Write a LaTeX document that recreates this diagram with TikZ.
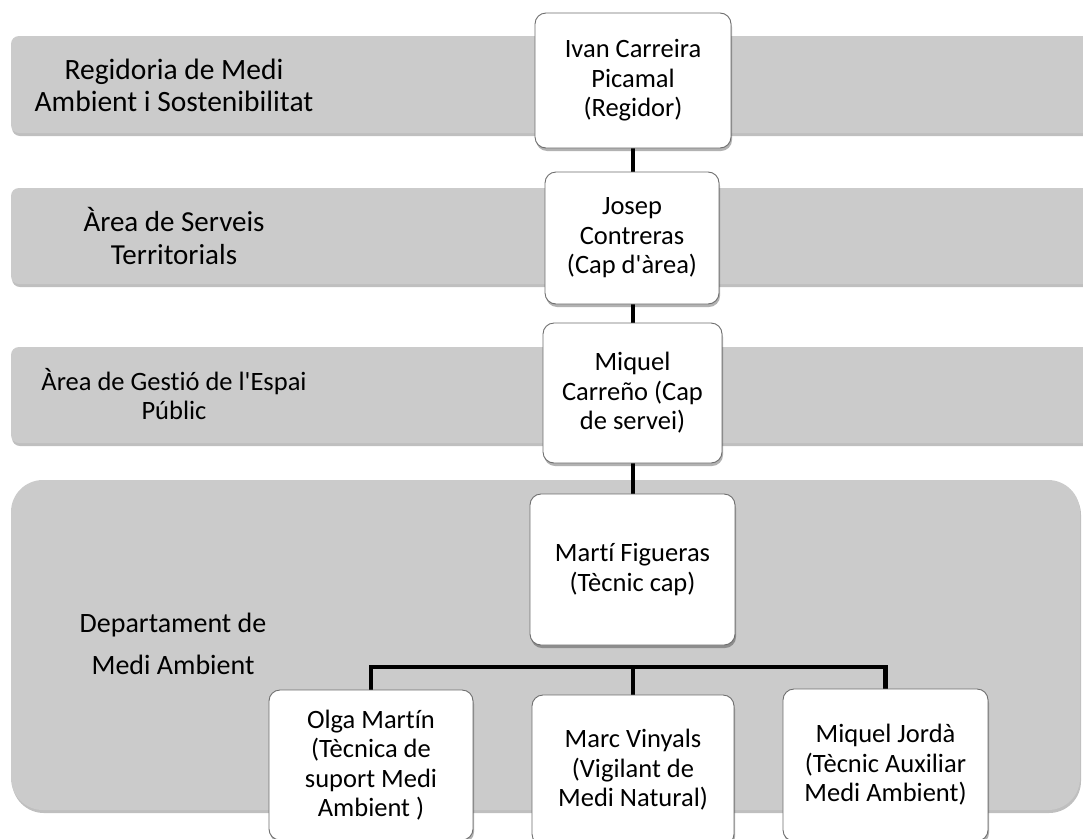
\documentclass[tikz,border=0pt]{standalone}
\usepackage{fontspec}
\setmainfont{Carlito}[Ligatures={NoCommon,TeXOff}]
\usetikzlibrary{shadows}
\definecolor{bandgray}{RGB}{203,203,203}
\definecolor{boxline}{RGB}{110,110,110}
\begin{document}
\begin{tikzpicture}[x=1pt,y=-1pt,
  bandshape/.style={fill=bandgray, drop shadow={shadow xshift=1pt, shadow yshift=-3pt, opacity=0.25, fill=black}},
  bandtext/.style={align=center, inner sep=0pt},
  person/.style={draw=boxline, line width=0.9pt, fill=white, rounded corners=11pt, align=center, inner sep=2pt,
    font=\fontsize{26.5}{29.5}\selectfont, drop shadow={shadow xshift=1pt, shadow yshift=-3pt, opacity=0.3, fill=black}},
  conn/.style={line width=4.5pt, draw=black}
]
\useasboundingbox (0,0) rectangle (1083,838);
\clip (0,0) rectangle (1083,838);
\fill[white] (0,0) rectangle (1083,838);

% bands
\path[bandshape, rounded corners=8pt] (11,36) rectangle (1100,133);
\path[bandshape, rounded corners=8pt] (11,188) rectangle (1100,284);
\path[bandshape, rounded corners=8pt] (11,347) rectangle (1100,443);
\path[bandshape, rounded corners=32pt] (11,480) rectangle (1080,810);

% band labels
\node[bandtext, font=\fontsize{29.5}{32}\selectfont] (b1) at (174,85) {Regidoria de Medi\\Ambient i Sostenibilitat};
\node[bandtext, font=\fontsize{29}{33}\selectfont] (b2) at (174,236) {Àrea de Serveis\\Territorials};
\node[bandtext, font=\fontsize{26.5}{29}\selectfont] (b3) at (174,394) {Àrea de Gestió de l'Espai\\Públic};
\node[bandtext, font=\fontsize{28}{42}\selectfont] (b4) at (173,644) {Departament de\\Medi Ambient};

% connectors (drawn under boxes)
\coordinate (split) at (633,667);
\draw[conn] (633,140) -- (633,640);
\draw[conn] (371,700) |- (split) -| (885.5,700);
\draw[conn] (split) -- (633,700);

% people
\node[person, minimum width=196pt, minimum height=135pt] (ivan) at (633,80.5) {Ivan Carreira\\Picamal\\(Regidor)};
\node[person, minimum width=174pt, minimum height=132pt] (josep) at (632,238) {Josep\\Contreras\\(Cap d'àrea)};
\node[person, minimum width=179pt, minimum height=140pt] (carreno) at (632.5,393) {Miquel\\Carreño (Cap\\de servei)};
\node[person, minimum width=205pt, minimum height=151pt] (marti) at (632.5,569.5) {Martí Figueras\\(Tècnic cap)};
\node[person, minimum width=204pt, minimum height=150pt] (olga) at (371,765) {Olga Martín\\(Tècnica de\\suport Medi\\Ambient )};
\node[person, minimum width=202pt, minimum height=150pt] (marc) at (633,770) {Marc Vinyals\\(Vigilant de\\Medi Natural)};
\node[person, minimum width=205pt, minimum height=152pt] (jorda) at (885.5,765) {Miquel Jordà\\(Tècnic Auxiliar\\Medi Ambient)};

\end{tikzpicture}
\end{document}
